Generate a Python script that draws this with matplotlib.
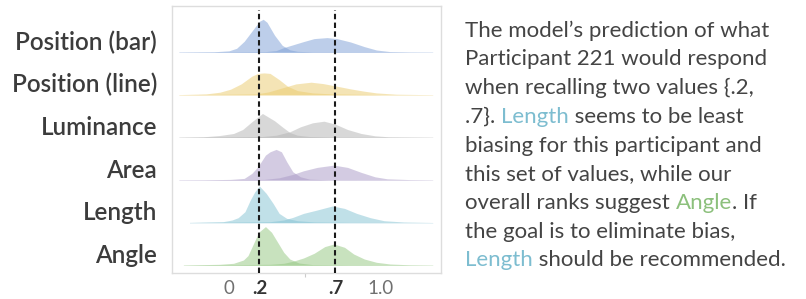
#!/usr/bin/env python3
"""Ridgeline of predicted recall for two values, with a side caption."""

import matplotlib
matplotlib.use("Agg")
import matplotlib.pyplot as plt
import numpy as np

FONT = ["Lato", "DejaVu Sans"]
plt.rcParams["font.family"] = FONT

# rows from top to bottom
ROWS = ["Position (bar)", "Position (line)", "Luminance", "Area", "Length", "Angle"]
FILL_COLORS = ["#7d9fd6", "#ebcb6c", "#b3b3b3", "#a999c6", "#83c2d3", "#92c67f"]

# density, (value, height) for the hump near .2 and the hump near .7
POS_BAR_LOW = [(-0.33, 0.3), (-0.1, 0.5), (0.0, 1.5), (0.05, 4), (0.1, 11), (0.15, 21), (0.2, 31),
               (0.225, 33), (0.25, 30), (0.3, 17), (0.35, 7), (0.4, 2.5), (0.45, 1), (0.55, 0.4), (1.34, 0.2)]
POS_BAR_HIGH = [(-0.33, 0.2), (0.24, 0.7), (0.31, 1.7), (0.36, 4.7), (0.49, 10.7), (0.56, 13.7), (0.645, 14.7),
                (0.71, 13.7), (0.8, 10.3), (0.89, 5.7), (0.97, 2.3), (1.06, 0.7), (1.19, 0.3), (1.34, 0.2)]
POS_LINE_LOW = [(-0.33, 0.3), (-0.15, 1), (-0.06, 2.7), (0.01, 5.7), (0.08, 11), (0.15, 18.7), (0.19, 21.5),
                (0.23, 22), (0.27, 21.5), (0.33, 15.3), (0.385, 8.7), (0.45, 4.3), (0.55, 2), (0.68, 1), (1.0, 0.3), (1.34, 0.2)]
POS_LINE_HIGH = [(-0.33, 0.2), (0.18, 1), (0.26, 3), (0.35, 7), (0.44, 11), (0.54, 12.7), (0.62, 11.3),
                 (0.71, 8.7), (0.8, 6), (0.89, 3.7), (0.97, 2), (1.1, 0.7), (1.34, 0.2)]
LUM_LOW = [(-0.33, 0.3), (-0.17, 0.7), (-0.06, 2), (0.03, 4), (0.09, 8), (0.15, 15.7), (0.22, 24),
           (0.3, 16.7), (0.35, 10.7), (0.4, 5), (0.45, 2.3), (0.53, 1), (0.7, 0.3), (1.34, 0.2)]
LUM_HIGH = [(-0.33, 0.2), (0.22, 1), (0.31, 2.3), (0.4, 5.7), (0.47, 10.7), (0.55, 14.7), (0.625, 16.3),
            (0.7, 13.3), (0.78, 8), (0.87, 4), (0.96, 1.7), (1.05, 0.7), (1.34, 0.2)]
AREA_LOW = [(-0.33, 0.3), (-0.17, 0.3), (0.01, 0.7), (0.1, 1.7), (0.15, 6.7), (0.19, 13.3), (0.24, 25),
            (0.27, 28.3), (0.31, 30.7), (0.345, 28.3), (0.38, 18.3), (0.42, 8.3), (0.47, 3.3), (0.53, 1),
            (0.65, 0.3), (1.34, 0.2)]
AREA_HIGH = [(-0.33, 0.2), (0.23, 0.7), (0.33, 2.3), (0.42, 5.7), (0.49, 9.3), (0.58, 12.7), (0.69, 15),
             (0.78, 12.7), (0.87, 7.7), (0.96, 3.3), (1.04, 1.3), (1.19, 0.5), (1.34, 0.2)]
LEN_LOW = [(-0.26, 0.3), (-0.04, 1), (0.02, 2.7), (0.06, 5), (0.105, 11), (0.14, 22.7), (0.17, 31),
           (0.2, 36.7), (0.245, 29.3), (0.29, 19.3), (0.33, 9.3), (0.38, 4.3), (0.45, 2), (0.56, 0.8),
           (0.8, 0.3), (1.34, 0.2)]
LEN_HIGH = [(-0.26, 0.2), (0.27, 1), (0.36, 2.7), (0.42, 5.3), (0.49, 9.3), (0.58, 12.7), (0.68, 16.7),
            (0.76, 14.3), (0.84, 9.3), (0.93, 5), (1.02, 2), (1.15, 0.7), (1.34, 0.2)]
ANG_LOW = [(-0.3, 0.3), (-0.06, 1), (0.03, 2), (0.095, 5.3), (0.125, 9.7), (0.16, 21.3), (0.195, 33),
           (0.24, 38.7), (0.28, 33), (0.32, 23), (0.36, 13), (0.4, 6.3), (0.46, 2.3), (0.55, 0.7),
           (0.8, 0.3), (1.34, 0.2)]
ANG_HIGH = [(-0.3, 0.2), (0.27, 1), (0.36, 2), (0.42, 4), (0.49, 7.3), (0.56, 12), (0.63, 18.7),
            (0.69, 21.3), (0.76, 18), (0.82, 11.3), (0.89, 6.3), (0.97, 3), (1.06, 1.3), (1.19, 0.5), (1.34, 0.2)]

HUMPS = [
    (POS_BAR_LOW, POS_BAR_HIGH),
    (POS_LINE_LOW, POS_LINE_HIGH),
    (LUM_LOW, LUM_HIGH),
    (AREA_LOW, AREA_HIGH),
    (LEN_LOW, LEN_HIGH),
    (ANG_LOW, ANG_HIGH),
]

TRUE_VALUES = [0.2, 0.7]
TICK_VALUES = [0, 0.2, 0.7, 1.0]
TICK_LABELS = ["0", ".2", ".7", "1.0"]
TICK_BOLD = [False, True, True, False]
MINOR_TICKS = [0, 0.5, 1.0]

ROW_GAP = 42.6
FIRST_BASE = 7.7

CAPTION = [
    [("The model’s prediction of what", None)],
    [("Participant 221 would respond", None)],
    [("when recalling two values {.2,", None)],
    [(".7}. ", None), ("Length", "#7dbdd0"), (" seems to be least", None)],
    [("biasing for this participant and", None)],
    [("this set of values, while our", None)],
    [("overall ranks suggest ", None), ("Angle", "#8cc07c"), (". If", None)],
    [("the goal is to eliminate bias,", None)],
    [("Length", "#7dbdd0"), (" should be recommended.", None)],
]

W, H = 806, 299
fig = plt.figure(figsize=(W / 100, H / 100), dpi=100)
ax = fig.add_axes([172 / W, (H - 273) / H, (441 - 172) / W, (273 - 6) / H])

n = len(ROWS)
for i, (name, color, pair) in enumerate(zip(ROWS, FILL_COLORS, HUMPS)):
    base = FIRST_BASE + ROW_GAP * (n - 1 - i)
    for hump in pair:
        xs = np.array([p[0] for p in hump])
        hs = np.array([p[1] for p in hump])
        ax.fill_between(xs, base, base + hs, color=color, alpha=0.5, linewidth=0, zorder=2 + i)
    ax.text(-0.056, base + 10, name, transform=ax.get_yaxis_transform(), ha="right", va="center",
            fontsize=17.5, color="#3c3c3c", fontweight="semibold")

for v in TRUE_VALUES:
    ax.plot([v, v], [0, 263], color="#1a1a1a", lw=1.5, dashes=(2.6, 1.6), zorder=20)

ax.set_xlim((172 - 229) / 152, (441 - 229) / 152)
ax.set_ylim(0, 267)
ax.set_yticks([])
ax.set_xticks(TICK_VALUES)
ax.set_xticklabels(TICK_LABELS)
ax.set_xticks(MINOR_TICKS, minor=True)
ax.tick_params(axis="x", which="major", length=0, pad=5, labelsize=13.5)
ax.tick_params(axis="x", which="minor", length=3, color="#cccccc", width=0.8)
for lab, bold in zip(ax.get_xticklabels(), TICK_BOLD):
    lab.set_fontweight("bold" if bold else "normal")
    lab.set_color("#333333" if bold else "#707070")
for sp in ax.spines.values():
    sp.set_color("#dddddd")
    sp.set_linewidth(1.0)

# caption, drawn piece by piece so colored words sit inline
fig.canvas.draw()
renderer = fig.canvas.get_renderer()
x0 = 465
y_first = 30.7
line_step = 28.7
for k, pieces in enumerate(CAPTION):
    x = x0
    y = H - (y_first + k * line_step)
    for txt, col in pieces:
        t = fig.text(x / W, y / H, txt, ha="left", va="center", fontsize=16,
                     color=col or "#444444")
        bb = t.get_window_extent(renderer=renderer)
        x += bb.width

fig.savefig("out.png", dpi=100)
